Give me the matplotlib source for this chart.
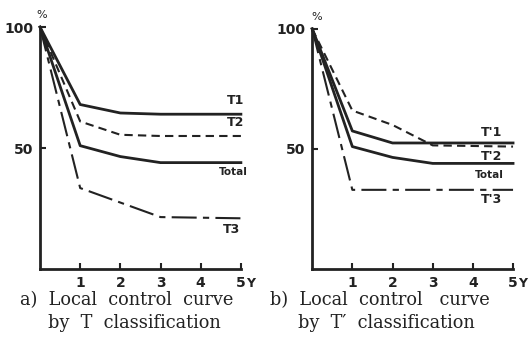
import matplotlib.pyplot as plt

# years of follow-up
years = [0, 1, 2, 3, 5]

# a) by T classification (%)
t1 = [100, 68, 64.5, 64, 64]
t2 = [100, 61, 55.5, 55, 55]
total = [100, 51, 46.5, 44, 44]
t3 = [100, 33.5, 27.5, 21.5, 21]

# b) by T' classification (%)
tp1 = [100, 57.5, 52.5, 52.5, 52.5]
tp2 = [100, 66, 60, 51.5, 51]
tp3 = [100, 33, 33, 33, 33]

tick_years = [1, 2, 3, 4, 5]
tick_labels = ["1", "2", "3", "4", "5"]

fig = plt.figure(figsize=(5.3, 3.56), dpi=100)
ax1 = fig.add_axes([0.0755, 0.244, 0.379, 0.680])
ax2 = fig.add_axes([0.589, 0.244, 0.379, 0.675])

lc = "#222222"
solid = "-"
dashed = (0, (4, 2.5))
dashdot = (0, (12, 3, 3, 3))


def style_axis(ax):
    ax.set_xlim(0, 5)
    ax.set_ylim(0, 100)
    for s in ["top", "right"]:
        ax.spines[s].set_visible(False)
    for s in ["left", "bottom"]:
        ax.spines[s].set_linewidth(2)
        ax.spines[s].set_color(lc)
    ax.set_xticks(tick_years)
    ax.set_xticklabels(tick_labels, fontweight="semibold")
    ax.set_yticks([50, 100])
    ax.set_yticklabels(["50", "100"], fontweight="semibold")
    ax.tick_params(direction="in", length=4, width=1.5, color=lc,
                   labelsize=10, labelcolor=lc, pad=5)
    ax.text(5.12, -3.2, "Y", fontsize=9, color=lc, va="top", ha="left",
            weight="semibold", clip_on=False)


style_axis(ax1)
ax1.plot(years, t1, color=lc, lw=2, ls=solid, clip_on=False)
ax1.plot(years, t2, color=lc, lw=1.5, ls=dashed, clip_on=False)
ax1.plot(years, total, color=lc, lw=2, ls=solid, clip_on=False)
ax1.plot(years, t3, color=lc, lw=1.5, ls=dashdot, clip_on=False)
ax1.text(0.05, 103, "%", fontsize=8, color=lc, ha="center", va="bottom")
ax1.text(4.65, 67, "T1", fontsize=9, color=lc, weight="semibold", va="bottom")
ax1.text(4.65, 58, "T2", fontsize=9, color=lc, weight="semibold", va="bottom")
ax1.text(4.45, 40, "Total", fontsize=7.5, color=lc, weight="bold", va="center")
ax1.text(4.55, 16.5, "T3", fontsize=9, color=lc, weight="semibold", va="center")

style_axis(ax2)
ax2.plot(years, tp1, color=lc, lw=2, ls=solid, clip_on=False)
ax2.plot(years, tp2, color=lc, lw=1.5, ls=dashed, clip_on=False)
ax2.plot(years, total, color=lc, lw=2, ls=solid, clip_on=False)
ax2.plot(years, tp3, color=lc, lw=1.5, ls=dashdot, clip_on=False)
ax2.text(0.12, 103, "%", fontsize=8, color=lc, ha="center", va="bottom")
ax2.text(4.2, 54, "T'1", fontsize=9, color=lc, weight="semibold", va="bottom")
ax2.text(4.2, 47, "T'2", fontsize=9, color=lc, weight="semibold", va="center")
ax2.text(4.05, 39, "Total", fontsize=7.5, color=lc, weight="bold", va="center")
ax2.text(4.2, 29, "T'3", fontsize=9, color=lc, weight="semibold", va="center")

fig.text(0.038, 0.125, "a)  Local  control  curve\n     by  T  classification",
         fontsize=12.8, family="DejaVu Serif", color=lc, va="center",
         linespacing=1.3)
fig.text(0.51, 0.125, "b)  Local  control   curve\n     by  T\u2032  classification",
         fontsize=12.8, family="DejaVu Serif", color=lc, va="center",
         linespacing=1.3)

fig.savefig("out.png", dpi=100)
